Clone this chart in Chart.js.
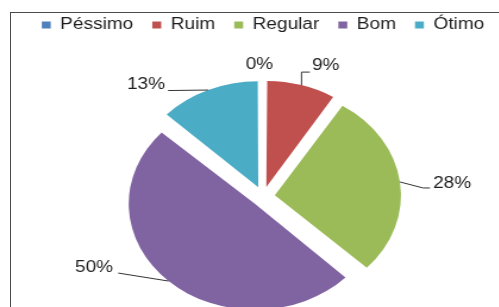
<!DOCTYPE html>
<html>
<head>
<meta charset="utf-8">
<script src="https://cdn.jsdelivr.net/npm/chart.js@4/dist/chart.umd.min.js"></script>
<style>
  html, body { margin: 0; padding: 0; background: #fff; overflow: hidden; width: 499px; height: 307px; }
  #frame { position: absolute; left: 10px; top: 12px; width: 600px; height: 400px; border-left: 1px solid #4a4a4a; border-top: 1px solid #4a4a4a; }
  #wrap { position: absolute; left: 0; top: 0; width: 442px; height: 350px; transform: scaleX(1.19); transform-origin: 0 0; }
</style>
</head>
<body>
<div id="frame"></div>
<div id="wrap"><canvas id="chart" width="442" height="350"></canvas></div>
<script>
const categories = ['Péssimo', 'Ruim', 'Regular', 'Bom', 'Ótimo'];
const percentages = [0, 9, 28, 50, 13];
const sliceColors = ['#4F81BD', '#C0504D', '#9BBB59', '#8064A2', '#4BACC6'];

const pieRadius = 106;
const explode = 10; // px each slice is pulled out

// where each percentage label sits relative to the outer edge of its slice
const labelLayout = [
  { line: [], text: [-3, -15.5], align: 'center' },
  { line: [[0, -13], [7, -13]], text: [8.8, -20], align: 'left' },
  { line: [[19.4, 6], [25.2, 6]], text: [27.8, 2], align: 'left' },
  { line: [[-42.3, -8]], text: [-46.5, -13], align: 'right' },
  { line: [[-33.7, 0.5]], text: [-36.2, -5], align: 'right' }
];

const pieLabels = {
  id: 'pieLabels',
  afterDatasetsUpdate(chart) {
    // chart.js grows exploded slices by offset * fix, keep them all on one radius
    chart.getDatasetMeta(0).data.forEach((arc) => {
      const fix = 1 - Math.sin(Math.min(Math.PI, arc.circumference || 0));
      arc.outerRadius = pieRadius - explode * fix;
    });
  },
  afterDraw(chart) {
    const ctx = chart.ctx;
    const arcs = chart.getDatasetMeta(0).data;
    ctx.save();
    ctx.font = '16px "Liberation Sans", Arial, sans-serif';
    ctx.fillStyle = '#1e1e1e';
    ctx.strokeStyle = '#333333';
    ctx.lineWidth = 1;
    arcs.forEach((arc, i) => {
      const mid = (arc.startAngle + arc.endAngle) / 2;
      const reach = pieRadius + explode;
      const ax = arc.x + Math.cos(mid) * reach;
      const ay = arc.y + Math.sin(mid) * reach;
      const lay = labelLayout[i];
      if (lay.line.length) {
        ctx.beginPath();
        ctx.moveTo(ax, ay);
        lay.line.forEach(([dx, dy]) => ctx.lineTo(ax + dx, ay + dy));
        ctx.stroke();
      }
      ctx.textAlign = lay.align;
      ctx.textBaseline = 'middle';
      ctx.fillText(percentages[i] + '%', ax + lay.text[0], ay + lay.text[1]);
    });
    ctx.restore();
  }
};

new Chart(document.getElementById('chart').getContext('2d'), {
  type: 'pie',
  data: {
    labels: categories,
    datasets: [{
      data: percentages,
      backgroundColor: sliceColors,
      borderWidth: 0,
      offset: explode * 4
    }]
  },
  options: {
    responsive: false,
    animation: false,
    radius: pieRadius,
    layout: { padding: { top: 1, bottom: 0, left: 0, right: 0 } },
    plugins: {
      tooltip: { enabled: false },
      legend: {
        position: 'top',
        labels: {
          color: '#1e1e1e',
          font: { family: '"Liberation Sans", Arial, sans-serif', size: 16 },
          boxWidth: 7.5,
          boxHeight: 7,
          padding: 16
        }
      }
    }
  },
  plugins: [pieLabels]
});
</script>
</body>
</html>
